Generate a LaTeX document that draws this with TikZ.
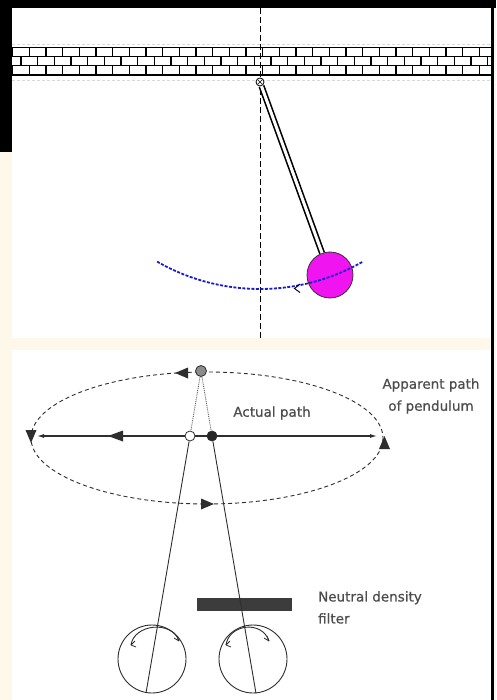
\documentclass[tikz,border=0pt]{standalone}
\usepackage{fontspec}
\setmainfont{DejaVu Sans}
\newfontfamily\labelfont[FakeBold=0.6]{DejaVu Sans}
\usetikzlibrary{arrows.meta}
\definecolor{cream}{HTML}{FEF8EA}
\definecolor{bobfill}{HTML}{F014F0}
\definecolor{swing}{HTML}{1A1AD0}
\definecolor{ink}{HTML}{2E2E2E}
\definecolor{filterc}{HTML}{3C3C3C}
\tikzset{
  brick/.style={line width=1.3pt, black},
  dot/.style={circle, draw=ink, line width=0.8pt, minimum size=10pt, inner sep=0pt},
  eyeball/.style={circle, draw=ink, line width=0.9pt, minimum size=68pt, inner sep=0pt},
  sight/.style={ink, line width=0.9pt},
  orbit/.style={ink, line width=0.9pt, dash pattern=on 4pt off 3pt},
  headfill/.style={fill=ink},
  label/.style={text=ink!85, font=\labelfont\fontsize{13.5}{22}\selectfont, inner sep=0pt},
}
\begin{document}
\begin{tikzpicture}[x=1pt,y=-1pt]
\useasboundingbox (0,0) rectangle (496,700);
% backgrounds and frame
\fill[cream] (0,0) rectangle (496,700);
\fill[white] (12,8) rectangle (491,338);
\fill[white] (12,350) rectangle (491,700);
\fill[black] (0,0) rectangle (496,8);
\fill[black] (0,0) rectangle (12,152);
\fill[black] (491,0) rectangle (494,700);

% ---------- ceiling (brick wall) ----------
\begin{scope}
\clip (12,40) rectangle (491,84);
\draw[black!15, dash pattern=on 3pt off 2pt] (12,44) -- (491,44);
\draw[black!15, dash pattern=on 3pt off 2pt] (12,80) -- (491,80);
\foreach \y in {47.5,56.5,65.5,75} \draw[brick] (12,\y) -- (491,\y);
\foreach \k in {0,...,29} {
  \draw[brick] (12.7+16.67*\k,47.5) -- ++(0,9);
  \draw[brick] (21+16.67*\k,56.5) -- ++(0,9);
  \draw[brick] (12.7+16.67*\k,65.5) -- ++(0,9.5);
}
\end{scope}

% vertical reference line
\coordinate (vtop) at (260,8);
\coordinate (vbot) at (260,339);
\draw[black, line width=1pt, dash pattern=on 6pt off 3pt] (vtop) -- (vbot);

% ---------- pendulum ----------
\node[circle, draw=black, line width=0.8pt, fill=white, minimum size=8pt, inner sep=0pt] (pivot) at (260,82) {};
\draw[black, line width=0.6pt] (257.5,79.5) -- (262.5,84.5) (262.5,79.5) -- (257.5,84.5);
\node[circle, draw=black!80, line width=0.8pt, fill=bobfill, minimum size=46pt, inner sep=0pt] (bob) at (330,275) {};
\draw[black, line width=1.6pt, double=white, double distance=3pt] (pivot) -- (bob);
% swing arc
\draw[swing, line width=1.8pt, dash pattern=on 3pt off 1.5pt]
  plot[domain=-29.8:29.8, samples=60, smooth] ({260+207*sin(\x)},{82+207*cos(\x)});
\draw[black!70!swing, line width=1pt] (300,284) -- (294.5,288.5) -- (300,292.5);

% ---------- lower panel ----------
% apparent (elliptical) path with its direction heads
\coordinate (ellc) at (207,438);
\draw[orbit] (ellc) ellipse [x radius=176, y radius=66];
\fill[headfill] (175,373) -- (188,367.5) -- (188,378.5) -- cycle;
\fill[headfill] (214,504) -- (201,498.5) -- (201,509.5) -- cycle;
\fill[headfill] (31,443) -- (25.5,430) -- (36.5,430) -- cycle;
\fill[headfill] (384.5,436) -- (379,449) -- (390,449) -- cycle;

% actual path
\coordinate (actL) at (37,436);
\coordinate (actR) at (377,436);
\draw[ink, line width=1.1pt, {Latex[length=7pt,width=4pt]}-{Latex[length=7pt,width=4pt]}] (actL) -- (actR);
\fill[headfill] (108,436) -- (123,430.5) -- (123,441.5) -- cycle;

\node[dot, fill=white] (open) at (190,436) {};
\node[dot, fill=black!85] (filled) at (212,436) {};
\node[dot, fill=black!45, minimum size=11pt] (apparent) at (201,371) {};
\draw[ink!80, line width=0.9pt, densely dotted] (apparent) -- (open);
\draw[ink!80, line width=0.9pt, densely dotted] (apparent) -- (filled);

% filter
\node[fill=filterc, minimum width=95pt, minimum height=13pt, inner sep=0pt] (filter) at (244.5,604.5) {};

% eyes
\node[eyeball] (lefteye) at (152,659) {};
\node[eyeball] (righteye) at (253,659) {};
\draw[sight] (open) -- (lefteye.260);
\draw[sight] (filled) -- (righteye.275);
% corneas
\draw[ink, line width=0.9pt] (131,645) .. controls (134,624) and (172,620) .. (179,641);
\draw[ink, line width=0.8pt] (131,645) -- (135,641) (131,645) -- (136,647);
\draw[ink, line width=0.8pt] (179,641) -- (174,638) (179,641) -- (177,636);
\draw[ink, line width=0.9pt] (226,645) .. controls (229,624) and (262,620) .. (269,641);
\draw[ink, line width=0.8pt] (226,645) -- (230,641) (226,645) -- (231,647);
\draw[ink, line width=0.8pt] (269,641) -- (264,638) (269,641) -- (267,636);

% labels
\node[label] (actual) at (272,413) {Actual path};
\node[label, align=center] (applabel) at (431,396) {Apparent path\\of pendulum};
\node[label, align=left, anchor=north west] (ndlabel) at (318,591) {Neutral density\\filter};
\end{tikzpicture}
\end{document}
